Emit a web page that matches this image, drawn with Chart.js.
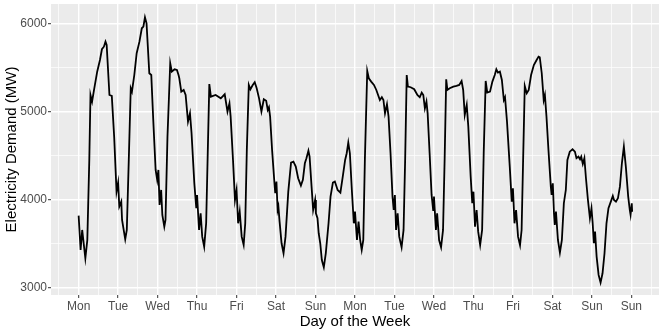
<!DOCTYPE html>
<html>
<head>
<meta charset="utf-8">
<title>Electricity Demand</title>
<script src="https://cdn.jsdelivr.net/npm/chart.js@4.4.1/dist/chart.umd.min.js"></script>
<style>
  html, body { margin: 0; padding: 0; background: #fff; }
  canvas { display: block; }
</style>
</head>
<body>
<canvas id="demand-chart" width="664" height="332"></canvas>
<script>
// x positions in days since the first Monday 00:00
const dayPos = [
  0.00, 0.05, 0.09, 0.17, 0.22, 0.27, 0.30, 0.34, 0.39, 0.47, 0.54, 0.59, 0.64, 0.68, 0.71, 0.78, 0.84, 0.90, 0.96,
  1.00, 1.03, 1.08, 1.10, 1.18, 1.22, 1.27, 1.32, 1.35, 1.41, 1.47, 1.54, 1.60, 1.64, 1.68, 1.72, 1.79, 1.84, 1.89, 1.95, 1.99,
  2.02, 2.05, 2.09, 2.12, 2.17, 2.20, 2.25, 2.32, 2.36, 2.43, 2.49, 2.53, 2.55, 2.60, 2.66, 2.71, 2.77, 2.82, 2.86, 2.93, 2.98,
  3.00, 3.05, 3.09, 3.13, 3.18, 3.23, 3.27, 3.31, 3.35, 3.47, 3.60, 3.70, 3.77, 3.82, 3.85, 3.91, 3.96,
  4.00, 4.04, 4.08, 4.13, 4.18, 4.22, 4.26, 4.31, 4.35, 4.41, 4.46, 4.51, 4.57, 4.63, 4.69, 4.75, 4.79, 4.82, 4.85, 4.90, 4.96, 4.98,
  5.01, 5.04, 5.06, 5.09, 5.14, 5.19, 5.24, 5.31, 5.38, 5.44, 5.50, 5.56, 5.63, 5.68, 5.73, 5.77, 5.82, 5.85, 5.90, 5.94, 5.99,
  6.01, 6.05, 6.08, 6.12, 6.16, 6.21, 6.26, 6.33, 6.38, 6.44, 6.49, 6.56, 6.63, 6.69, 6.75, 6.79, 6.83, 6.87, 6.92, 6.97,
  7.00, 7.05, 7.09, 7.13, 7.17, 7.21, 7.25, 7.31, 7.35, 7.41, 7.48, 7.54, 7.63, 7.68, 7.72, 7.76, 7.81, 7.85, 7.90, 7.95, 7.98,
  8.01, 8.04, 8.08, 8.12, 8.18, 8.23, 8.27, 8.31, 8.34, 8.41, 8.50, 8.58, 8.64, 8.69, 8.73, 8.77, 8.81, 8.84, 8.89, 8.94, 8.98,
  9.00, 9.05, 9.08, 9.13, 9.18, 9.23, 9.27, 9.31, 9.34, 9.40, 9.49, 9.57, 9.64, 9.70, 9.74, 9.78, 9.83, 9.87, 9.93, 9.97,
  10.00, 10.04, 10.08, 10.12, 10.17, 10.22, 10.26, 10.31, 10.35, 10.42, 10.48, 10.54, 10.58, 10.62, 10.67, 10.72, 10.77, 10.80, 10.85, 10.92, 10.97,
  11.00, 11.04, 11.08, 11.13, 11.18, 11.22, 11.26, 11.30, 11.35, 11.40, 11.46, 11.53, 11.60, 11.65, 11.68, 11.73, 11.78, 11.81, 11.85, 11.90, 11.96, 11.98,
  12.01, 12.04, 12.06, 12.09, 12.14, 12.19, 12.24, 12.29, 12.34, 12.38, 12.44, 12.51, 12.57, 12.61, 12.66, 12.70, 12.73, 12.77, 12.81, 12.85, 12.90, 12.95, 12.99,
  13.02, 13.05, 13.08, 13.12, 13.17, 13.22, 13.27, 13.32, 13.37, 13.42, 13.48, 13.53, 13.56, 13.61, 13.66, 13.71, 13.76, 13.81, 13.86, 13.92, 13.96, 13.98, 14.01, 14.02
];

// demand in MW at each of the positions above
const demandMW = [
  3814, 3424, 3651, 3329, 3537, 4447, 5185, 5109, 5242, 5450, 5583, 5705, 5734, 5791, 5753, 5185, 5174, 4711, 4086,
  4189, 3916, 3973, 3765, 3545, 3651, 4447, 5261, 5223, 5412, 5659, 5791, 5943, 5962, 6068, 6000, 5432, 5412, 4901, 4333, 4219,
  4333, 3935, 4106, 3822, 3689, 3765, 4711, 5545, 5450, 5477, 5470, 5412, 5375, 5223, 5242, 5185, 4882, 4977, 4750, 4182, 3898,
  4049, 3651, 3841, 3575, 3461, 3727, 4523, 5310, 5166, 5185, 5147, 5193, 4996, 5091, 4939, 4447, 3992,
  4106, 3727, 3859, 3575, 3481, 3727, 4560, 5299, 5250, 5299, 5330, 5261, 5147, 4996, 5136, 5120, 5015, 5045, 4939, 4560, 4182, 4068,
  4201, 3878, 3916, 3746, 3500, 3386, 3575, 4086, 4416, 4428, 4371, 4239, 4155, 4220, 4409, 4466, 4552, 4484, 4143, 3878, 3992,
  3841, 3784, 3614, 3500, 3310, 3227, 3386, 3727, 4030, 4189, 4201, 4106, 4076, 4257, 4447, 4523, 4644, 4523, 4106, 3727,
  3859, 3537, 3746, 3537, 3424, 3537, 4447, 5458, 5375, 5337, 5299, 5242, 5128, 5159, 5128, 4977, 5080, 4939, 4523, 4030, 3878,
  4049, 3651, 3841, 3575, 3454, 3651, 4447, 5412, 5280, 5273, 5250, 5185, 5159, 5212, 5185, 5034, 5109, 4977, 4523, 4049, 3878,
  4030, 3651, 3841, 3537, 3454, 3651, 4447, 5364, 5242, 5261, 5280, 5288, 5299, 5344, 5242, 4958, 5072, 4825, 4257, 3955,
  4086, 3689, 3878, 3632, 3481, 3651, 4523, 5344, 5212, 5223, 5337, 5412, 5477, 5439, 5450, 5356, 5128, 5159, 4882, 4371, 3973,
  4125, 3727, 3878, 3575, 3477, 3651, 4484, 5288, 5205, 5242, 5412, 5526, 5583, 5621, 5614, 5432, 5128, 5185, 4939, 4560, 4143, 4049,
  4182, 3841, 3708, 3859, 3537, 3394, 3537, 3955, 4106, 4447, 4541, 4568, 4541, 4466, 4484, 4454, 4484, 4401, 4466, 4239, 3992, 3784, 3898,
  3727, 3500, 3632, 3348, 3140, 3053, 3159, 3386, 3727, 3898, 3973, 4037, 3992, 3973, 4011, 4143, 4409, 4598, 4371, 4030, 3878, 3822, 3955, 3859
];

const dayLabels = ['Mon', 'Tue', 'Wed', 'Thu', 'Fri', 'Sat', 'Sun',
                   'Mon', 'Tue', 'Wed', 'Thu', 'Fri', 'Sat', 'Sun', 'Sun'];
const yTickValues = [3000, 3500, 4000, 4500, 5000, 5500, 6000];

const FONT = "'Liberation Sans', Arial, Helvetica, sans-serif";

// grid positions: majors on the days, minors half way between
const xTickValues = [];
for (let i = -1; i <= 29; i++) xTickValues.push(i / 2);

const isMajorX = v => Number.isInteger(v);
const isMajorY = v => v % 1000 === 0;

const panelBg = {
    id: 'panelBg',
    beforeDraw(chart) {
        const { ctx, chartArea: a } = chart;
        ctx.save();
        ctx.fillStyle = '#EBEBEB';
        ctx.fillRect(a.left, a.top, a.right - a.left, a.bottom - a.top);
        ctx.restore();
    }
};

new Chart(document.getElementById('demand-chart'), {
    type: 'line',
    data: {
        datasets: [{
            data: dayPos.map((d, i) => ({ x: d, y: demandMW[i] })),
            borderColor: '#000000',
            borderWidth: 1.8,
            pointRadius: 0,
            tension: 0,
            fill: false
        }]
    },
    options: {
        responsive: false,
        animation: false,
        layout: { padding: { left: 0, right: 5, top: 4, bottom: 0 } },
        plugins: {
            legend: { display: false },
            tooltip: { enabled: false }
        },
        scales: {
            x: {
                type: 'linear',
                min: -0.7,
                max: 14.7,
                afterBuildTicks: s => { s.ticks = xTickValues.map(v => ({ value: v })); },
                afterFit: s => { s.height = 37; s.paddingLeft = 0; s.paddingRight = 0; },
                border: { display: false },
                grid: {
                    color: '#FFFFFF',
                    lineWidth: c => isMajorX(c.tick.value) ? 1.4 : 0.7,
                    drawTicks: true,
                    tickLength: 3,
                    tickWidth: 1,
                    tickColor: c => isMajorX(c.tick.value) ? '#333333' : 'rgba(0,0,0,0)'
                },
                ticks: {
                    autoSkip: false,
                    maxRotation: 0,
                    padding: 1,
                    color: '#4D4D4D',
                    font: { family: FONT, size: 12 },
                    callback: v => isMajorX(v) ? dayLabels[v] : ''
                },
                title: {
                    display: true,
                    text: 'Day of the Week',
                    color: '#000000',
                    font: { family: FONT, size: 15 },
                    padding: { top: 0, bottom: 1 }
                }
            },
            y: {
                min: 2912,
                max: 6219,
                afterBuildTicks: s => { s.ticks = yTickValues.map(v => ({ value: v })); },
                afterFit: s => { s.width = 51; s.paddingTop = 0; s.paddingBottom = 0; },
                border: { display: false },
                grid: {
                    color: '#FFFFFF',
                    lineWidth: c => isMajorY(c.tick.value) ? 1.4 : 0.7,
                    drawTicks: true,
                    tickLength: 3,
                    tickWidth: 1,
                    tickColor: c => isMajorY(c.tick.value) ? '#333333' : 'rgba(0,0,0,0)'
                },
                ticks: {
                    autoSkip: false,
                    padding: 1,
                    color: '#4D4D4D',
                    font: { family: FONT, size: 12 },
                    callback: v => isMajorY(v) ? String(v) : ''
                },
                title: {
                    display: true,
                    text: 'Electricity Demand (MW)',
                    color: '#000000',
                    font: { family: FONT, size: 15 },
                    padding: { top: 3, bottom: 0 }
                }
            }
        }
    },
    plugins: [panelBg]
});
</script>
</body>
</html>
